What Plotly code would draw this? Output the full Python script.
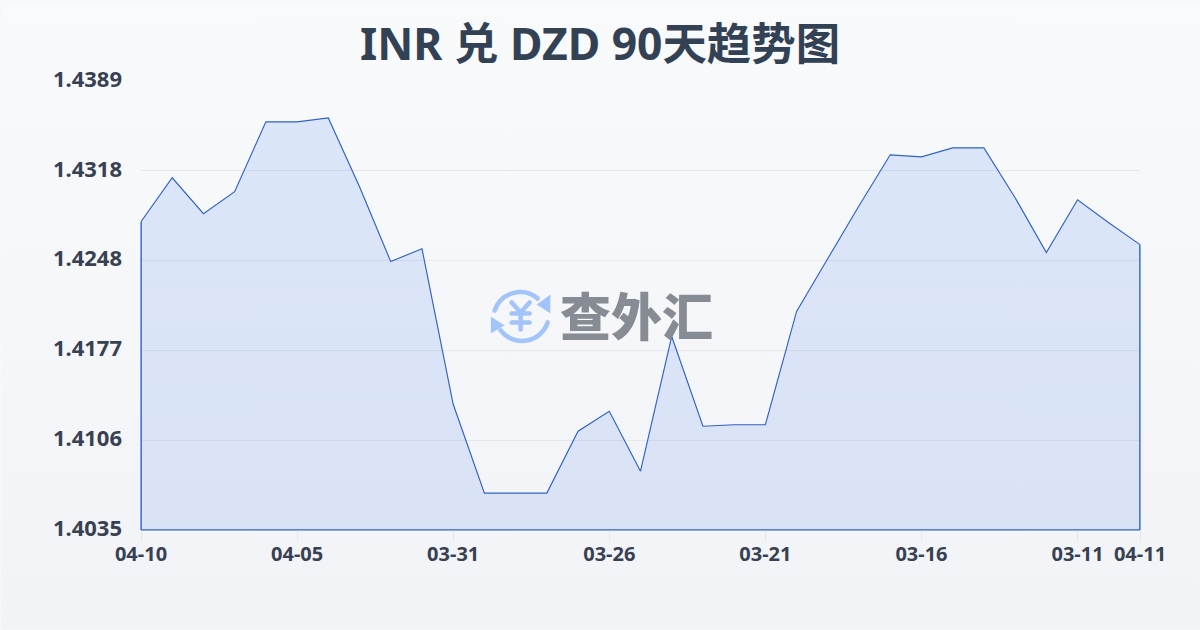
import plotly.graph_objects as go
from urllib.parse import quote

title = "INR 兑 DZD 90天趋势图"
rates = [1.42781, 1.43127, 1.42844, 1.43017, 1.43568, 1.43568, 1.43599, 1.43056, 1.42466,
         1.42568, 1.41341, 1.40641, 1.40641, 1.40641, 1.41129, 1.41286, 1.40814, 1.41876,
         1.41168, 1.41180, 1.41180, 1.42073, 1.42490, 1.42907, 1.43308, 1.43292, 1.43363,
         1.43363, 1.42970, 1.42537, 1.42954, 1.42773, 1.42600]
x_tick_idx = [0, 5, 10, 15, 20, 25, 30, 32]
x_tick_labels = ["04-10", "04-05", "03-31", "03-26", "03-21", "03-16", "03-11", "04-11"]
y_tick_vals = [1.4035, 1.41058, 1.41766, 1.42474, 1.43182, 1.4389]
y_tick_labels = ["1.4035", "1.4106", "1.4177", "1.4248", "1.4318", "1.4389"]
y_min, y_max = 1.4035, 1.4389

bg_svg = ('<svg xmlns="http://www.w3.org/2000/svg" width="1200" height="630" preserveAspectRatio="none">'
          '<defs><linearGradient id="g" x1="0" y1="0" x2="0" y2="1">'
          '<stop offset="0" stop-color="#f8fafc"/><stop offset="1" stop-color="#f1f3f6"/>'
          '</linearGradient></defs><rect width="1200" height="630" fill="url(#g)"/></svg>')
icon_svg = ('<svg xmlns="http://www.w3.org/2000/svg" viewBox="0 0 60 60" width="60" height="60">'
            '<g fill="none" stroke="#a3c4fa" stroke-width="4.6" stroke-linecap="round" stroke-linejoin="round">'
            '<path d="M4 25 A27 27 0 0 1 47 13"/><path d="M57 37 A27 27 0 0 1 10 45"/>'
            '<path d="M21 17 L30 27 L39 17 M21 28 H39 M21 37 H39 M30 27 V44"/></g>'
            '<path d="M46 19 L60 9 L60 28 Z" fill="#a3c4fa"/>'
            '<path d="M0 31 L14 40 L0 48 Z" fill="#a3c4fa"/></svg>')
def uri(s):
    return "data:image/svg+xml;charset=utf-8," + quote(s)

LINE = "#2f62c8"
LW = 1.15
idx = list(range(len(rates)))
fig = go.Figure(go.Scatter(
    x=[0] + idx + [idx[-1], 0], y=[y_min] + rates + [y_min, y_min],
    mode="lines", fill="toself",
    fillgradient=dict(type="vertical", colorscale=[[0, "rgba(37,99,235,0.12)"], [1, "rgba(37,99,235,0.13)"]]),
    line=dict(color=LINE, width=LW), cliponaxis=False, hoverinfo="skip", showlegend=False))

FONT = "Noto Sans, Noto Sans CJK SC, sans-serif"
INK = "#374151"
edge = dict(color=LINE, width=LW)
fig.update_layout(
    width=1200, height=630, margin=dict(l=140.5, r=59.5, t=80.5, b=99.5),
    paper_bgcolor="#f6f8fa", plot_bgcolor="rgba(0,0,0,0)",
    title=dict(text="<b>%s</b>" % title, x=0.5, xanchor="center", y=0.93, yanchor="middle",
               font=dict(family=FONT, size=44.4, color="#334155")),
    xaxis=dict(range=[0, 32], tickmode="array", tickvals=x_tick_idx, ticktext=x_tick_labels,
               showgrid=False, zeroline=False, ticks="outside", ticklen=10, tickcolor="#e5e7eb", tickwidth=1,
               tickangle=0, ticklabelstandoff=-4,
               tickfont=dict(family=FONT, size=20, color=INK, weight="bold")),
    yaxis=dict(range=[y_min, y_max], tickmode="array", tickvals=y_tick_vals, ticktext=y_tick_labels,
               showgrid=True, gridcolor="#e5e7eb", gridwidth=1, zeroline=False, ticks="", ticklabelstandoff=18,
               ticklabelshift=-2,
               tickfont=dict(family=FONT, size=22, color=INK, weight="bold")),
    shapes=[dict(type="line", xref="paper", yref="paper", x0=0, x1=1, y0=0, y1=0, line=edge),
            dict(type="line", xref="paper", yref="y", x0=0, x1=0, y0=y_min, y1=rates[0], line=edge),
            dict(type="line", xref="paper", yref="y", x0=1, x1=1, y0=y_min, y1=rates[-1], line=edge)],
    images=[dict(source=uri(bg_svg), xref="paper", yref="paper", x=-140/1000, y=1+80/450,
                 sizex=1.2, sizey=1.4, xanchor="left", yanchor="top", sizing="stretch", layer="below"),
            dict(source=uri(icon_svg), xref="paper", yref="paper", x=(490-140)/1000, y=(530-285)/450,
                 sizex=0.06, sizey=60/450, xanchor="left", yanchor="top", sizing="stretch", layer="above", opacity=1)],
    annotations=[dict(text="查外汇", xref="paper", yref="paper", x=(636-140)/1000, y=(530-314)/450,
                      xanchor="center", yanchor="middle", showarrow=False,
                      font=dict(family="Noto Sans CJK SC", size=51, color="#878b93", weight=900))],
)
fig.write_html("out.html", config=dict(displayModeBar=False),
               post_script="document.body.style.margin='0';document.documentElement.style.overflow='hidden';")
